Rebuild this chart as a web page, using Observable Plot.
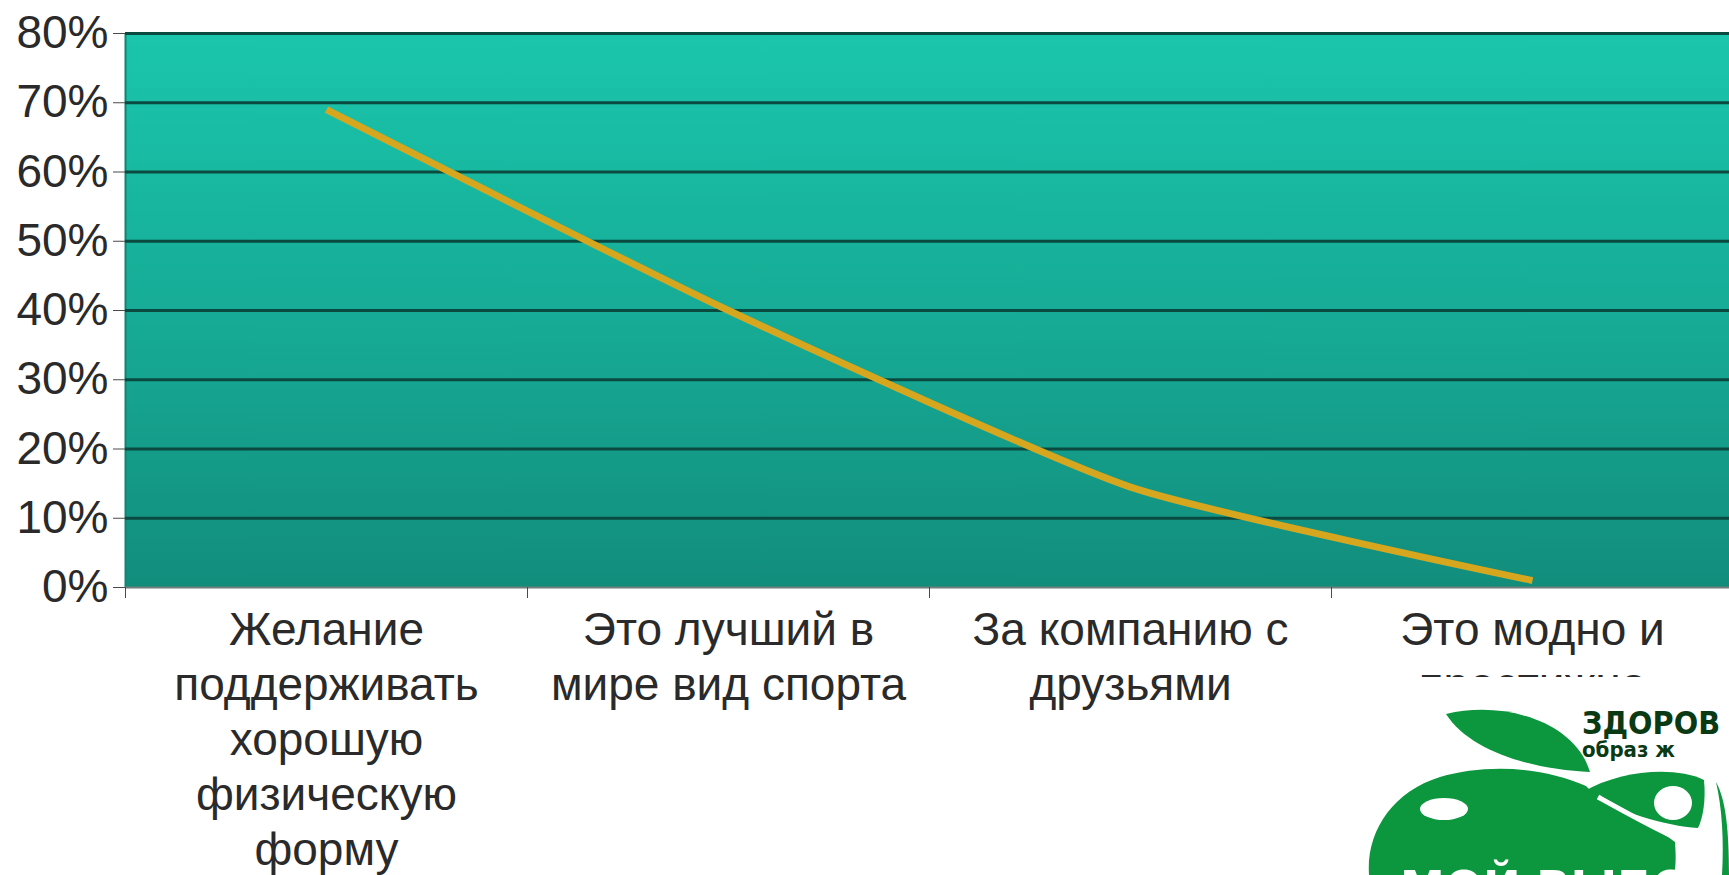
<!DOCTYPE html>
<html>
<head>
<meta charset="utf-8">
<script src="https://cdn.jsdelivr.net/npm/d3@7"></script>
<script src="https://cdn.jsdelivr.net/npm/@observablehq/plot@0.6"></script>
<style>
  html, body { margin: 0; padding: 0; background: #ffffff; }
  #wrap { position: relative; width: 1729px; height: 875px; overflow: hidden; }
  #logo { position: absolute; left: 0; top: 0; pointer-events: none; }
</style>
</head>
<body>
<div id="wrap"></div>
<script>
// ---- data ----
const categories = [
  "Желание\nподдерживать\nхорошую\nфизическую\nформу",
  "Это лучший в\nмире вид спорта",
  "За компанию с\nдрузьями",
  "Это модно и\nпрестижно"
];
const values = [0.69, 0.40, 0.145, 0.01];
const yTicks = [0, 0.1, 0.2, 0.3, 0.4, 0.5, 0.6, 0.7, 0.8];
const yTickLabels = ["0%", "10%", "20%", "30%", "40%", "50%", "60%", "70%", "80%"];

// table built from arrays
const table = categories.map((c, i) => ({pos: i + 0.5, label: c, value: values[i]}));
const centers = table.map(d => d.pos);
const bounds = d3.range(categories.length + 1);

const defs = () => {
  const g = d3.create("svg:defs");
  const lg = g.append("linearGradient").attr("id", "bg").attr("x1", 0).attr("y1", 0).attr("x2", 0).attr("y2", 1);
  lg.append("stop").attr("offset", "0%").attr("stop-color", "#1ac6ac");
  lg.append("stop").attr("offset", "55%").attr("stop-color", "#16a994");
  lg.append("stop").attr("offset", "100%").attr("stop-color", "#128d7c");
  return g.node();
};

const chart = Plot.plot({
  width: 1729,
  height: 875,
  marginLeft: 125,
  marginRight: 0,
  marginTop: 33,
  marginBottom: 288,
  style: {fontFamily: "'Liberation Sans', Arial, sans-serif", fontSize: "46px", color: "#2a2a2a", background: "#ffffff"},
  x: {domain: [0, categories.length], range: [125, 1733]},
  y: {domain: [0, 0.8]},
  marks: [
    defs,
    Plot.frame({fill: "url(#bg)", stroke: null}),
    Plot.ruleX([0], {stroke: "#118472", strokeWidth: 2}),
    Plot.gridY(yTicks.slice(1), {stroke: "#0a4a40", strokeOpacity: 1, strokeWidth: 3}),
    Plot.ruleY([0], {stroke: "#6f7f7b", strokeWidth: 2}),
    Plot.axisY({
      ticks: yTicks,
      tickFormat: (d) => yTickLabels[yTicks.indexOf(d)],
      tickSize: 12,
      tickPadding: 5,
      label: null,
      fontSize: 46,
      stroke: "#4a4a4a"
    }),
    Plot.axisX({
      ticks: bounds,
      tickFormat: () => "",
      tickSize: 11,
      label: null,
      stroke: "#4a4a4a"
    }),
    Plot.axisX({
      ticks: centers,
      tickFormat: (d) => table.find(t => t.pos === d).label,
      tickSize: 0,
      tickPadding: 18,
      lineHeight: 1.2,
      fontSize: 46,
      label: null
    }),
    Plot.line(table, {
      x: "pos",
      y: "value",
      curve: "cardinal",
      tension: 0.45,
      stroke: "#d6a61f",
      strokeWidth: 7,
      strokeLinecap: "butt",
      strokeLinejoin: "round"
    })
  ]
});

document.getElementById("wrap").appendChild(chart);

// ---- decorative logo overlay (bottom-right) ----
const logo = d3.select("#wrap").append("svg")
  .attr("id", "logo").attr("width", 1729).attr("height", 875);
logo.append("rect").attr("x", 1323).attr("y", 677).attr("width", 420).attr("height", 220)
  .attr("rx", 14).attr("fill", "#ffffff");
const green = "#0c963e";
// top leaf
logo.append("path").attr("fill", green)
  .attr("d", "M1446 714 C1505 700 1575 722 1590 772 C1535 770 1470 752 1446 714 Z");
// apple body
logo.append("path").attr("fill", green)
  .attr("d", "M1369 875 C1366 832 1392 792 1440 777 C1485 764 1540 766 1586 786 L1600 800 C1630 815 1660 830 1675 842 C1676 856 1676 866 1674 875 Z");
// right leaf
logo.append("path").attr("fill", green)
  .attr("d", "M1583 792 C1620 770 1675 766 1704 780 C1706 800 1703 818 1698 828 C1665 826 1620 812 1583 792 Z");
// right sliver
logo.append("path").attr("fill", green)
  .attr("d", "M1716 782 C1726 800 1729 830 1729 875 L1722 875 C1724 840 1722 808 1716 782 Z");
// white highlights / slit
logo.append("ellipse").attr("cx", 1444).attr("cy", 809).attr("rx", 24).attr("ry", 11).attr("fill", "#ffffff");
logo.append("ellipse").attr("cx", 1673).attr("cy", 803).attr("rx", 19).attr("ry", 17).attr("fill", "#ffffff");
logo.append("path").attr("stroke", "#ffffff").attr("stroke-width", 5).attr("fill", "none")
  .attr("d", "M1598 797 C1625 812 1650 826 1676 838");
// logo texts
logo.append("text").attr("x", 1582).attr("y", 734).attr("fill", "#0a3a14")
  .attr("font-family", "'DejaVu Sans Condensed', 'Liberation Sans Narrow', sans-serif")
  .attr("font-weight", "900").attr("font-size", 32).text("ЗДОРОВ");
logo.append("text").attr("x", 1582).attr("y", 757).attr("fill", "#0a3a14")
  .attr("font-family", "'DejaVu Sans Condensed', 'Liberation Sans Narrow', sans-serif")
  .attr("font-weight", "900").attr("font-size", 22).text("образ ж");
logo.append("text").attr("x", 1400).attr("y", 906).attr("fill", "#ffffff")
  .attr("font-family", "'DejaVu Sans Condensed', 'Liberation Sans Narrow', sans-serif")
  .attr("font-weight", "bold").attr("font-size", 50).text("МОЙ ВЫБОР");
</script>
</body>
</html>
